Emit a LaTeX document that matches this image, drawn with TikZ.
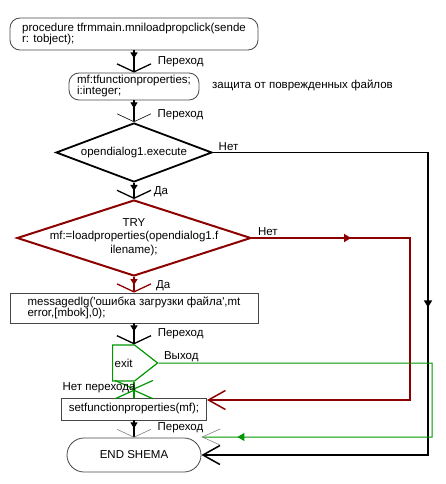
\documentclass[tikz,border=0pt]{standalone}
\usepackage{fontspec}
\setmainfont{Liberation Sans}[Ligatures=TeXOff]
\usetikzlibrary{positioning, arrows.meta, shapes.geometric, shapes.symbols, decorations.markings}
\definecolor{flowred}{RGB}{140, 0, 0}
\definecolor{flowgreen}{RGB}{0, 150, 0}
\definecolor{boxgray}{RGB}{70, 70, 70}

\begin{document}
\begin{tikzpicture}[x=1pt, y=-1pt, font=\fontsize{11.5}{11}\selectfont,
    termbox/.style={draw=boxgray, line width=0.8pt, rounded corners=10pt, align=left, inner sep=0pt},
    procbox/.style={draw=boxgray, line width=0.8pt, align=left, inner sep=0pt},
    decision/.style={diamond, draw, line width=1.8pt, inner sep=0pt, aspect=2.6},
    exitbox/.style={signal, signal to=east, signal pointer angle=76, draw=flowgreen, line width=1.2pt, minimum width=45pt, minimum height=36pt, inner sep=2pt},
    lbl/.style={anchor=west, inner sep=1pt, xshift=22pt},
    lbltop/.style={anchor=south west, inner sep=1pt, xshift=4pt},
    srcmark/.style={postaction={decorate, decoration={markings, mark=at position 8pt with {\arrow{Triangle[length=6pt, width=7pt]}}}}},
    midmark/.style={postaction={decorate, decoration={markings, mark=at position #1 with {\arrow{Triangle[length=7pt, width=8pt]}}}}},
    crossmark/.style={postaction={decorate, decoration={markings, mark=at position 0.5 with {\arrow{Straight Barb[length=8.5pt, width=38pt]}\arrowreversed{Straight Barb[length=8.5pt, width=38pt]}}}}},
    flow/.style={draw=#1, line width=1.6pt, -{Straight Barb[length=8pt, width=34pt, line width=1.3pt]}, srcmark},
    flow/.default=black,
    thinbarb/.style={-{Straight Barb[length=8pt, width=34pt, line width=0.6pt, color=#1]}},
    sideflow/.style={draw=#1, line width=1.6pt, -{Straight Barb[length=17pt, width=19pt, line width=1.5pt]}},
    sideflow/.default=black]
    \useasboundingbox (0,0) rectangle (446,484);

    % Nodes
    \node (start) [termbox, minimum width=248pt, minimum height=32pt] at (134,34) {procedure tfrmmain.mniloadpropclick(sende\\r: tobject);};
    \node (mf) [termbox, minimum width=130pt, minimum height=27pt] at (134,86.5) {mf:tfunctionproperties;\\i:integer;};
    \node (comment) [anchor=west, inner sep=0pt] at (212,85) {защита от поврежденных файлов};
    \node (open) [decision, minimum width=156pt, minimum height=59pt] at (134,152.5) {opendialog1.execute};
    \node (try) [decision, draw=flowred, line width=2pt, minimum width=234pt, minimum height=76pt] at (134,238) {};
    \node (trytext) [align=center, font=\fontsize{11.5}{13.5}\selectfont] at (134,237) {TRY\\mf:=loadproperties(opendialog1.f\\ilename);};
    \node (msg) [procbox, minimum width=248pt, minimum height=30pt] at (134,308) {messagedlg('ошибка загрузки файла',mt\\error,[mbok],0);};
    \node (exit) [exitbox, anchor=west] at (112,363) {exit};
    \node (setf) [procbox, minimum width=145pt, minimum height=22pt] at (134,409) {setfunctionproperties(mf);};
    \node (endn) [termbox, rounded corners=17pt, minimum width=134pt, minimum height=34pt] at (134,455) {END SHEMA};

    \coordinate (nocorner) at (428,152.5);
    \coordinate (trycorner) at (410,238);
    \coordinate (exitcorner) at (432,363);

    % Arrows
    \draw[flow] (start) -- node[lbl, pos=0.52] {Переход} (mf);
    \draw[flow, line width=1.2pt, thinbarb=black] (mf) -- node[lbl, pos=0.65] {Переход} (open);
    \draw[flow] (open) -- node[lbl, pos=0.55, xshift=-4pt] {Да} (try);
    \draw[flow=flowred, line width=2pt] (try) -- node[lbl, pos=0.53, xshift=-2pt] {Да} (msg);
    \draw[flow] (msg.south) -- node[lbl, pos=0.5] {Переход} (msg.south |- exit.north);
    \draw[draw=flowgreen, line width=1.2pt, crossmark] (exit.south -| setf.north) -- node[anchor=east, inner sep=1pt, pos=0.41, xshift=3pt] {Нет перехода} (setf.north);
    \draw[flow, line width=1.2pt, thinbarb=gray] (setf) -- node[lbl, pos=0.4] {Переход} (endn);

    \draw[sideflow, midmark=370pt] (open) -- node[lbltop, pos=0] {Нет} (nocorner) |- (endn);
    \draw[sideflow=flowred, line width=2pt, midmark=99pt] (try) -- node[lbltop, pos=0] {Нет} (trycorner) |- ([yshift=9pt]setf.east);
    \draw[sideflow=flowgreen, line width=1pt, -{Straight Barb[length=18pt, width=16pt, line width=0.6pt, color=gray]}, midmark=542pt] (exit) -- node[lbltop, pos=0] {Выход} (exitcorner) |- ([yshift=18pt]endn.east);
\end{tikzpicture}
\end{document}
